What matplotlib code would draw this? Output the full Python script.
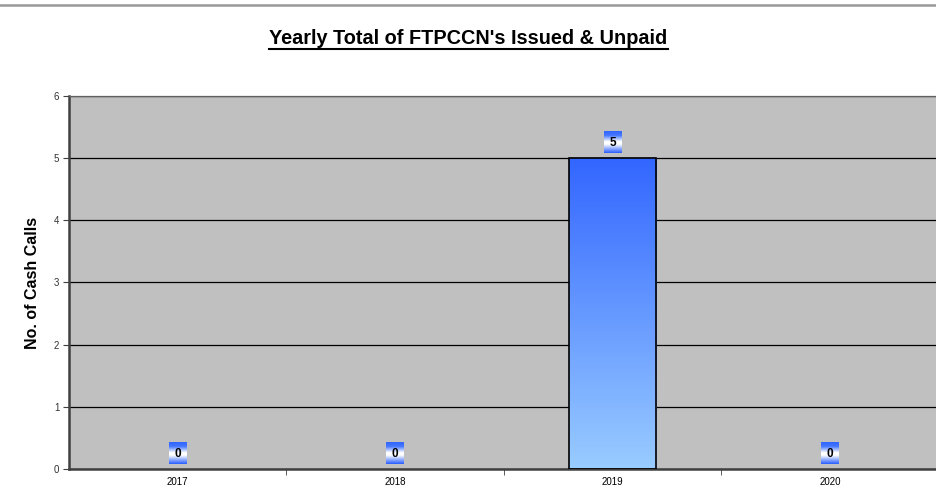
import matplotlib.pyplot as plt
import numpy as np
from matplotlib.offsetbox import OffsetImage, AnnotationBbox
from matplotlib.colors import LinearSegmentedColormap

years = ["2017", "2018", "2019", "2020"]
counts = [0, 0, 5, 0]
y_ticks = [0, 1, 2, 3, 4, 5, 6]

plt.rcParams['font.family'] = ['Liberation Sans', 'DejaVu Sans']

fig = plt.figure(figsize=(9.37, 4.93), dpi=100)
ax = fig.add_axes([0.0736, 0.0487, 0.9285, 0.7566])
ax.set_facecolor("#c0c0c0")

x = np.arange(len(years))
bar_w = 0.4
bars = ax.bar(x, counts, width=bar_w, color="none", edgecolor="black", linewidth=1.2, zorder=3)

# vertical gradient fill for the bars
bar_cmap = LinearSegmentedColormap.from_list("barfill", ["#99ccff", "#3366ff"])
grad = np.linspace(0, 1, 256).reshape(-1, 1)
for b in bars:
    h = b.get_height()
    if h <= 0:
        b.set_edgecolor("none")
        continue
    x0 = b.get_x()
    im = ax.imshow(grad, cmap=bar_cmap, origin="lower", aspect="auto",
                   extent=[x0, x0 + b.get_width(), 0, h], zorder=2)
    im.set_clip_path(b)

# value labels in small gradient boxes (blue - white - blue)
lab_cmap = LinearSegmentedColormap.from_list(
    "lab", [(0, "#3366ff"), (0.18, "#4477ff"), (0.48, "#ffffff"),
            (0.6, "#ffffff"), (1, "#3366ff")])
box = lab_cmap(np.linspace(0, 1, 22))
box = np.repeat(box[:, None, :], 18, axis=1)
for xi, v in zip(x, counts):
    ab = AnnotationBbox(OffsetImage(box, zoom=0.72), (xi, v), xybox=(0, 11.8),
                        xycoords="data", boxcoords="offset points", frameon=False, zorder=4)
    ax.add_artist(ab)
    ax.annotate(str(v), (xi, v), xytext=(0, 10.8), textcoords="offset points",
                ha="center", va="center", fontsize=8.5, fontweight="bold", zorder=5)

ax.set_xlim(-0.5, len(years) - 0.5)
ax.set_ylim(0, 6)
ax.set_yticks(y_ticks)
ax.set_xticks(x)
ax.set_xticklabels(years)
ax.set_xticks(np.arange(0.5, len(years) - 0.5, 1), minor=True)
ax.tick_params(axis="x", which="major", length=0, labelsize=7, pad=6)
ax.tick_params(axis="x", which="minor", length=4, color="#404040", direction="out")
ax.tick_params(axis="y", length=4, color="#404040", labelsize=7, pad=3, labelcolor="#333333")
ax.yaxis.grid(True, color="black", linewidth=0.9)
ax.set_axisbelow(True)

for s in ["left", "bottom"]:
    ax.spines[s].set_color("#404040")
    ax.spines[s].set_linewidth(1.8)
ax.spines["top"].set_color("#606060")
ax.spines["top"].set_linewidth(0.9)
ax.spines["right"].set_visible(False)

ax.set_ylabel("No. of Cash Calls", fontsize=11.5, fontweight="bold", labelpad=10)

t = fig.text(0.5, 0.922, "Yearly Total of FTPCCN's Issued & Unpaid", ha="center", va="center",
             fontsize=14.3, fontweight="bold")
fig.canvas.draw()
bb = t.get_window_extent()
fig.add_artist(plt.Line2D([bb.x0 / fig.bbox.width, bb.x1 / fig.bbox.width],
                          [(bb.y0 - 1) / fig.bbox.height] * 2, color="black", linewidth=1.5))

# grey rule across the top
fig.add_artist(plt.Line2D([0, 1], [1 - 4.5 / 493] * 2, color="#999999", linewidth=1.8))

fig.savefig("out.png", dpi=100)
